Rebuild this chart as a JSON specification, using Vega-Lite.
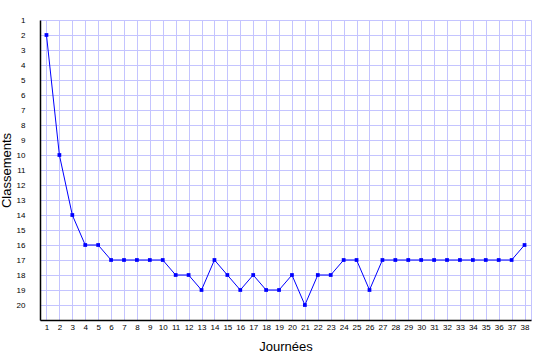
{
  "$schema": "https://vega.github.io/schema/vega-lite/v6.json",
  "width": 491,
  "height": 300,
  "autosize": {"type": "none"},
  "padding": {"left": 40, "top": 20, "right": 4, "bottom": 40},
  "background": "white",
  "config": {
    "view": {"stroke": "#c4c4ff", "strokeWidth": 1},
    "axis": {"labelFont": "Liberation Sans", "titleFont": "Liberation Sans", "labelColor": "#000000", "titleColor": "#000000", "titleFontWeight": "normal"}
  },
  "data": {"values": [
    {"j": 1, "c": 2}, {"j": 2, "c": 10}, {"j": 3, "c": 14}, {"j": 4, "c": 16}, {"j": 5, "c": 16},
    {"j": 6, "c": 17}, {"j": 7, "c": 17}, {"j": 8, "c": 17}, {"j": 9, "c": 17}, {"j": 10, "c": 17},
    {"j": 11, "c": 18}, {"j": 12, "c": 18}, {"j": 13, "c": 19}, {"j": 14, "c": 17}, {"j": 15, "c": 18},
    {"j": 16, "c": 19}, {"j": 17, "c": 18}, {"j": 18, "c": 19}, {"j": 19, "c": 19}, {"j": 20, "c": 18},
    {"j": 21, "c": 20}, {"j": 22, "c": 18}, {"j": 23, "c": 18}, {"j": 24, "c": 17}, {"j": 25, "c": 17},
    {"j": 26, "c": 19}, {"j": 27, "c": 17}, {"j": 28, "c": 17}, {"j": 29, "c": 17}, {"j": 30, "c": 17},
    {"j": 31, "c": 17}, {"j": 32, "c": 17}, {"j": 33, "c": 17}, {"j": 34, "c": 17}, {"j": 35, "c": 17},
    {"j": 36, "c": 17}, {"j": 37, "c": 17}, {"j": 38, "c": 16}
  ]},
  "encoding": {
    "x": {
      "field": "j", "type": "quantitative",
      "scale": {"domain": [0.5, 38.5], "nice": false, "zero": false},
      "axis": {
        "title": "Journées", "titleFontSize": 13, "titlePadding": 9,
        "values": [1,2,3,4,5,6,7,8,9,10,11,12,13,14,15,16,17,18,19,20,21,22,23,24,25,26,27,28,29,30,31,32,33,34,35,36,37,38],
        "labelFontSize": 8, "labelPadding": 3, "ticks": false,
        "grid": true, "gridColor": "#c4c4ff", "gridWidth": 1, "gridOpacity": 1,
        "domainColor": "#000000", "domainWidth": 1.5, "labelFlush": false, "labelOverlap": false
      }
    },
    "y": {
      "field": "c", "type": "quantitative",
      "scale": {"domain": [1, 21], "reverse": true, "nice": false, "zero": false},
      "axis": {
        "title": "Classements", "titleFontSize": 13, "titlePadding": 3,
        "values": [1,2,3,4,5,6,7,8,9,10,11,12,13,14,15,16,17,18,19,20],
        "labelFontSize": 8, "labelPadding": 15, "ticks": false,
        "grid": true, "gridColor": "#c4c4ff", "gridWidth": 1, "gridOpacity": 1,
        "domainColor": "#000000", "domainWidth": 1.5, "labelFlush": false, "labelOverlap": false
      }
    }
  },
  "layer": [
    {"mark": {"type": "line", "color": "#0000ff", "strokeWidth": 1}},
    {"mark": {"type": "square", "color": "#0000ff", "size": 14, "opacity": 1, "filled": true}}
  ]
}
